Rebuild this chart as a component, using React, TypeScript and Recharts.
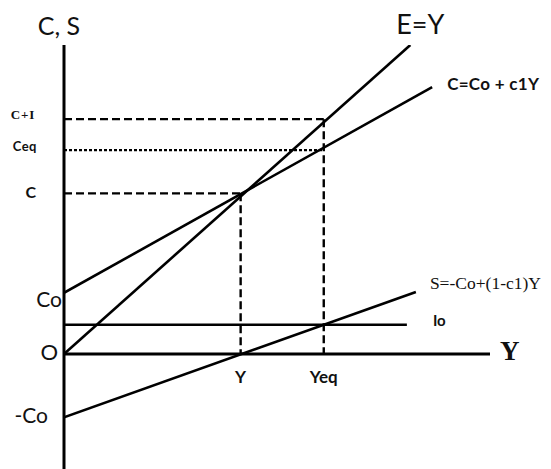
import React from 'react';
import { LineChart, Line, XAxis, YAxis, ReferenceLine, ReferenceDot } from 'recharts';

// ---- values (data units) ----
const Co = 19.8;
const negCo = -20.5;
const Io = 9.5;
const Ystar = 51;
const Yeq = 75;
const Cstar = 52;
const Ceq = 66;
const CplusI = 76;

const eyLine = [{ x: 0, y: 0 }, { x: 100, y: 100 }];
const cLine = [{ x: 0, y: Co }, { x: 106.3, y: 86.4 }];
const sLine = [{ x: 0, y: negCo }, { x: 101.6, y: 20.1 }];
const ioLine = [{ x: 0, y: Io }, { x: 99, y: Io }];
const cPlusIGuide = [{ x: 0, y: CplusI }, { x: Yeq, y: CplusI }];
const ceqGuide = [{ x: 0, y: Ceq }, { x: Yeq, y: Ceq }];
const cGuide = [{ x: 0, y: Cstar }, { x: Ystar, y: Cstar }];
const yStarGuide = [{ x: Ystar, y: Cstar }, { x: Ystar, y: 0 }];
const yEqGuide = [{ x: Yeq, y: CplusI }, { x: Yeq, y: 0 }];

const yTickValues = [CplusI, Ceq, Cstar, Co, 0, negCo];
const yTickLabels = ['C+I', 'Ceq', 'C', 'Co', 'O', '-Co'];
const xTickValues = [Ystar, Yeq];
const xTickLabels = ['Y', 'Yeq'];
const xDomain = [0, 123];
const yDomain = [-37.2, 100];
const lineLabels = ['E=Y', 'C=Co + c1Y', 'S=-Co+(1-c1)Y', 'Io'];
const axisTitles = ['C, S', 'Y'];

const SANS = 'Lato, "Open Sans", sans-serif';
const SERIF = '"Liberation Serif", "DejaVu Serif", serif';
const INK = '#111';

const tickStyle: Record<string, any> = {
  'C+I': { dx: -29, dy: 0, size: 13, weight: 700, family: SERIF, ls: 0.8 },
  Ceq: { dx: -27, dy: 1, size: 13, weight: 700, family: SANS, ls: 0.5 },
  C: { dx: -28, dy: 5, size: 16, weight: 700, family: SANS, ls: 0 },
  Co: { dx: -2, dy: 14, size: 21, weight: 400, family: SANS, ls: 0 },
  O: { dx: -6, dy: 6, size: 22, weight: 400, family: SANS, ls: 0 },
  '-Co': { dx: -16, dy: 6, size: 21, weight: 400, family: SANS, ls: 0 },
};

const YTick = (props: any) => {
  const { x, y, payload } = props;
  const i = yTickValues.indexOf(payload.value);
  const label = yTickLabels[i];
  const s = tickStyle[label];
  if (!s) return null;
  return (
    <text x={x + s.dx} y={y + s.dy} textAnchor="end" fontFamily={s.family} fontSize={s.size} fontWeight={s.weight} letterSpacing={s.ls} fill={INK}>
      {label}
    </text>
  );
};

const endLabel = (text: string, n: number, dx: number, dy: number, opts: any) => (p: any) => {
  if (p.index !== n - 1) return null;
  return (
    <text key={text} x={p.x + dx} y={p.y + dy} textAnchor={opts.anchor || 'start'} fontFamily={opts.family} fontSize={opts.size} fontWeight={opts.weight} letterSpacing={opts.ls || 0} fill={INK}>
      {text}
    </text>
  );
};

const dotLabel = (text: string, dx: number, dy: number, opts: any) => (p: any) => {
  const vb = p.viewBox || {};
  return (
    <text x={vb.x + (vb.width || 0) / 2 + dx} y={vb.y + (vb.height || 0) / 2 + dy} textAnchor={opts.anchor || 'middle'} fontFamily={opts.family} fontSize={opts.size} fontWeight={opts.weight} fill={INK}>
      {text}
    </text>
  );
};

const solid = { stroke: '#000', strokeWidth: 2.6, dot: false, isAnimationActive: false, type: 'linear' as const };
const dashed = { ...solid, strokeWidth: 2.4, strokeDasharray: '8 4' };
const dotted = { ...solid, strokeWidth: 2.2, strokeDasharray: '3 2' };

export default function App() {
  return (
    <div style={{ position: 'absolute', left: 0, top: 0, width: 551, height: 469, background: '#fff', overflow: 'hidden' }}>
      <LineChart width={551} height={469} margin={{ top: 45, right: 61, bottom: 0, left: 0 }}>
        <XAxis type="number" dataKey="x" domain={xDomain} hide allowDataOverflow />
        <YAxis
          type="number"
          dataKey="y"
          domain={yDomain}
          ticks={yTickValues}
          interval={0}
          width={64}
          tickLine={false}
          tickSize={0}
          tickMargin={0}
          axisLine={{ stroke: '#000', strokeWidth: 3 }}
          tick={<YTick />}
          allowDataOverflow
        />
        <ReferenceLine y={0} stroke="#000" strokeWidth={3} ifOverflow="extendDomain" />

        <Line data={cPlusIGuide} dataKey="y" {...dashed} />
        <Line data={ceqGuide} dataKey="y" {...dotted} />
        <Line data={cGuide} dataKey="y" {...dashed} />
        <Line data={yStarGuide} dataKey="y" {...dashed} />
        <Line data={yEqGuide} dataKey="y" {...dashed} />

        <Line data={eyLine} dataKey="y" {...solid} label={endLabel(lineLabels[0], eyLine.length, 10, -11, { anchor: 'middle', family: SANS, size: 27, weight: 400 })} />
        <Line data={cLine} dataKey="y" {...solid} label={endLabel(lineLabels[1], cLine.length, 15, 3, { family: SANS, size: 17, weight: 700, ls: 0.3 })} />
        <Line data={sLine} dataKey="y" {...solid} label={endLabel(lineLabels[2], sLine.length, 14, -3, { family: SERIF, size: 17.5, weight: 400 })} />
        <Line data={ioLine} dataKey="y" {...solid} label={endLabel(lineLabels[3], ioLine.length, 26, 1, { family: SANS, size: 15, weight: 700 })} />

        <ReferenceDot x={xDomain[0]} y={yDomain[1]} r={0} fill="none" stroke="none" label={dotLabel(axisTitles[0], -5, -10, { family: SANS, size: 25, weight: 400 })} />
        <ReferenceDot x={xDomain[1]} y={0} r={0} fill="none" stroke="none" label={dotLabel(axisTitles[1], 10, 6, { anchor: 'start', family: SERIF, size: 27, weight: 700 })} />
        <ReferenceDot x={xTickValues[0]} y={0} r={0} fill="none" stroke="none" label={dotLabel(xTickLabels[0], 0, 29, { family: SANS, size: 17, weight: 700 })} />
        <ReferenceDot x={xTickValues[1]} y={0} r={0} fill="none" stroke="none" label={dotLabel(xTickLabels[1], 0, 29, { family: SANS, size: 17, weight: 700 })} />
      </LineChart>
    </div>
  );
}
